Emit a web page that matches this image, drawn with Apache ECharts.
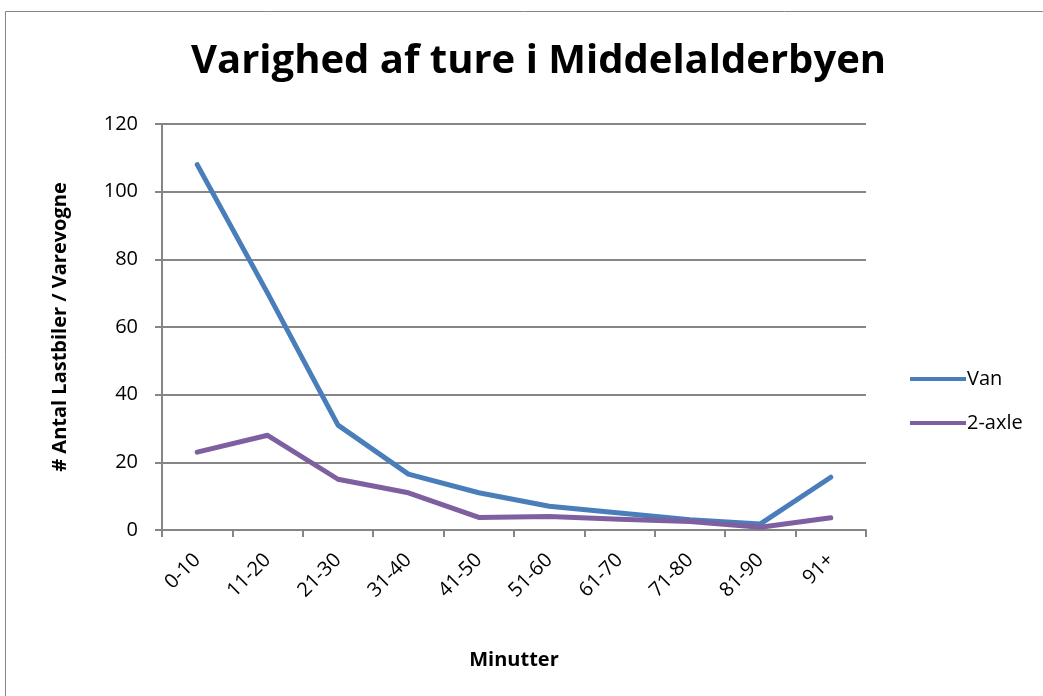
<!DOCTYPE html>
<html>
<head>
<meta charset="utf-8">
<script src="https://cdn.jsdelivr.net/npm/echarts@6/dist/echarts.min.js"></script>
<style>
  html, body { margin: 0; padding: 0; background: #fff; }
  #main { width: 1043px; height: 696px; }
</style>
</head>
<body>
<div id="main"></div>
<script>
var categories = ['0-10', '11-20', '21-30', '31-40', '41-50', '51-60', '61-70', '71-80', '81-90', '91+'];
var vanData = [108, 70, 31, 16.5, 11, 7, 5, 3, 1.8, 15.6];
var axleData = [23, 28, 15, 11, 3.7, 4, 3.2, 2.5, 0.8, 3.6];
var yTicks = [0, 20, 40, 60, 80, 100, 120];

var myChart = echarts.init(document.getElementById('main'));
var font = '"Open Sans", "Liberation Sans", sans-serif';

var option = {
  backgroundColor: '#fff',
  graphic: [{
    type: 'rect',
    shape: { x: 5.5, y: 11.5, width: 1100, height: 800 },
    style: { fill: 'none', stroke: '#868686', lineWidth: 1 }
  }],
  title: {
    text: 'Varighed af ture i Middelalderbyen',
    left: 186,
    top: 37,
    textStyle: { fontFamily: font, fontSize: 40, fontWeight: 'bold', color: '#000' }
  },
  legend: {
    orient: 'vertical',
    left: 905,
    top: 364,
    itemWidth: 56,
    itemHeight: 4,
    itemGap: 24,
    icon: 'rect',
    data: ['Van', '2-axle'],
    textStyle: { fontFamily: font, fontSize: 20, color: '#000', padding: [0, 0, 0, -4] }
  },
  grid: { left: 162, right: 177, top: 124, bottom: 166 },
  xAxis: {
    type: 'category',
    data: categories,
    boundaryGap: true,
    name: 'Minutter',
    nameLocation: 'middle',
    nameGap: 120,
    nameTextStyle: { fontFamily: font, fontSize: 20, fontWeight: 'bold', color: '#000' },
    axisLine: { lineStyle: { color: '#868686', width: 2 } },
    axisTick: { show: true, length: 7, alignWithLabel: false, lineStyle: { color: '#868686', width: 2 } },
    axisLabel: { rotate: 45, fontFamily: font, fontSize: 20, color: '#000', margin: 27, interval: 0 }
  },
  yAxis: {
    type: 'value',
    min: 0,
    max: 120,
    interval: 20,
    name: '# Antal Lastbiler / Varevogne',
    nameLocation: 'middle',
    nameGap: 92,
    nameTextStyle: { fontFamily: font, fontSize: 20, fontWeight: 'bold', color: '#000' },
    axisLine: { show: true, lineStyle: { color: '#868686', width: 2 } },
    axisTick: { show: true, length: 7, lineStyle: { color: '#868686', width: 2 } },
    axisLabel: {
      fontFamily: font, fontSize: 20, color: '#000', margin: 24,
      formatter: function (v) { return yTicks.indexOf(v) >= 0 ? String(v) : ''; }
    },
    splitLine: { lineStyle: { color: '#868686', width: 2 } }
  },
  series: [{
    name: 'Van',
    type: 'line',
    data: vanData,
    symbol: 'none',
    color: '#4a7ebb',
    lineStyle: { width: 5, color: '#4a7ebb', cap: 'round', join: 'round' }
  }, {
    name: '2-axle',
    type: 'line',
    data: axleData,
    symbol: 'none',
    color: '#7e60a0',
    lineStyle: { width: 5, color: '#7e60a0', cap: 'round', join: 'round' }
  }]
};

myChart.setOption(option);
</script>
</body>
</html>
